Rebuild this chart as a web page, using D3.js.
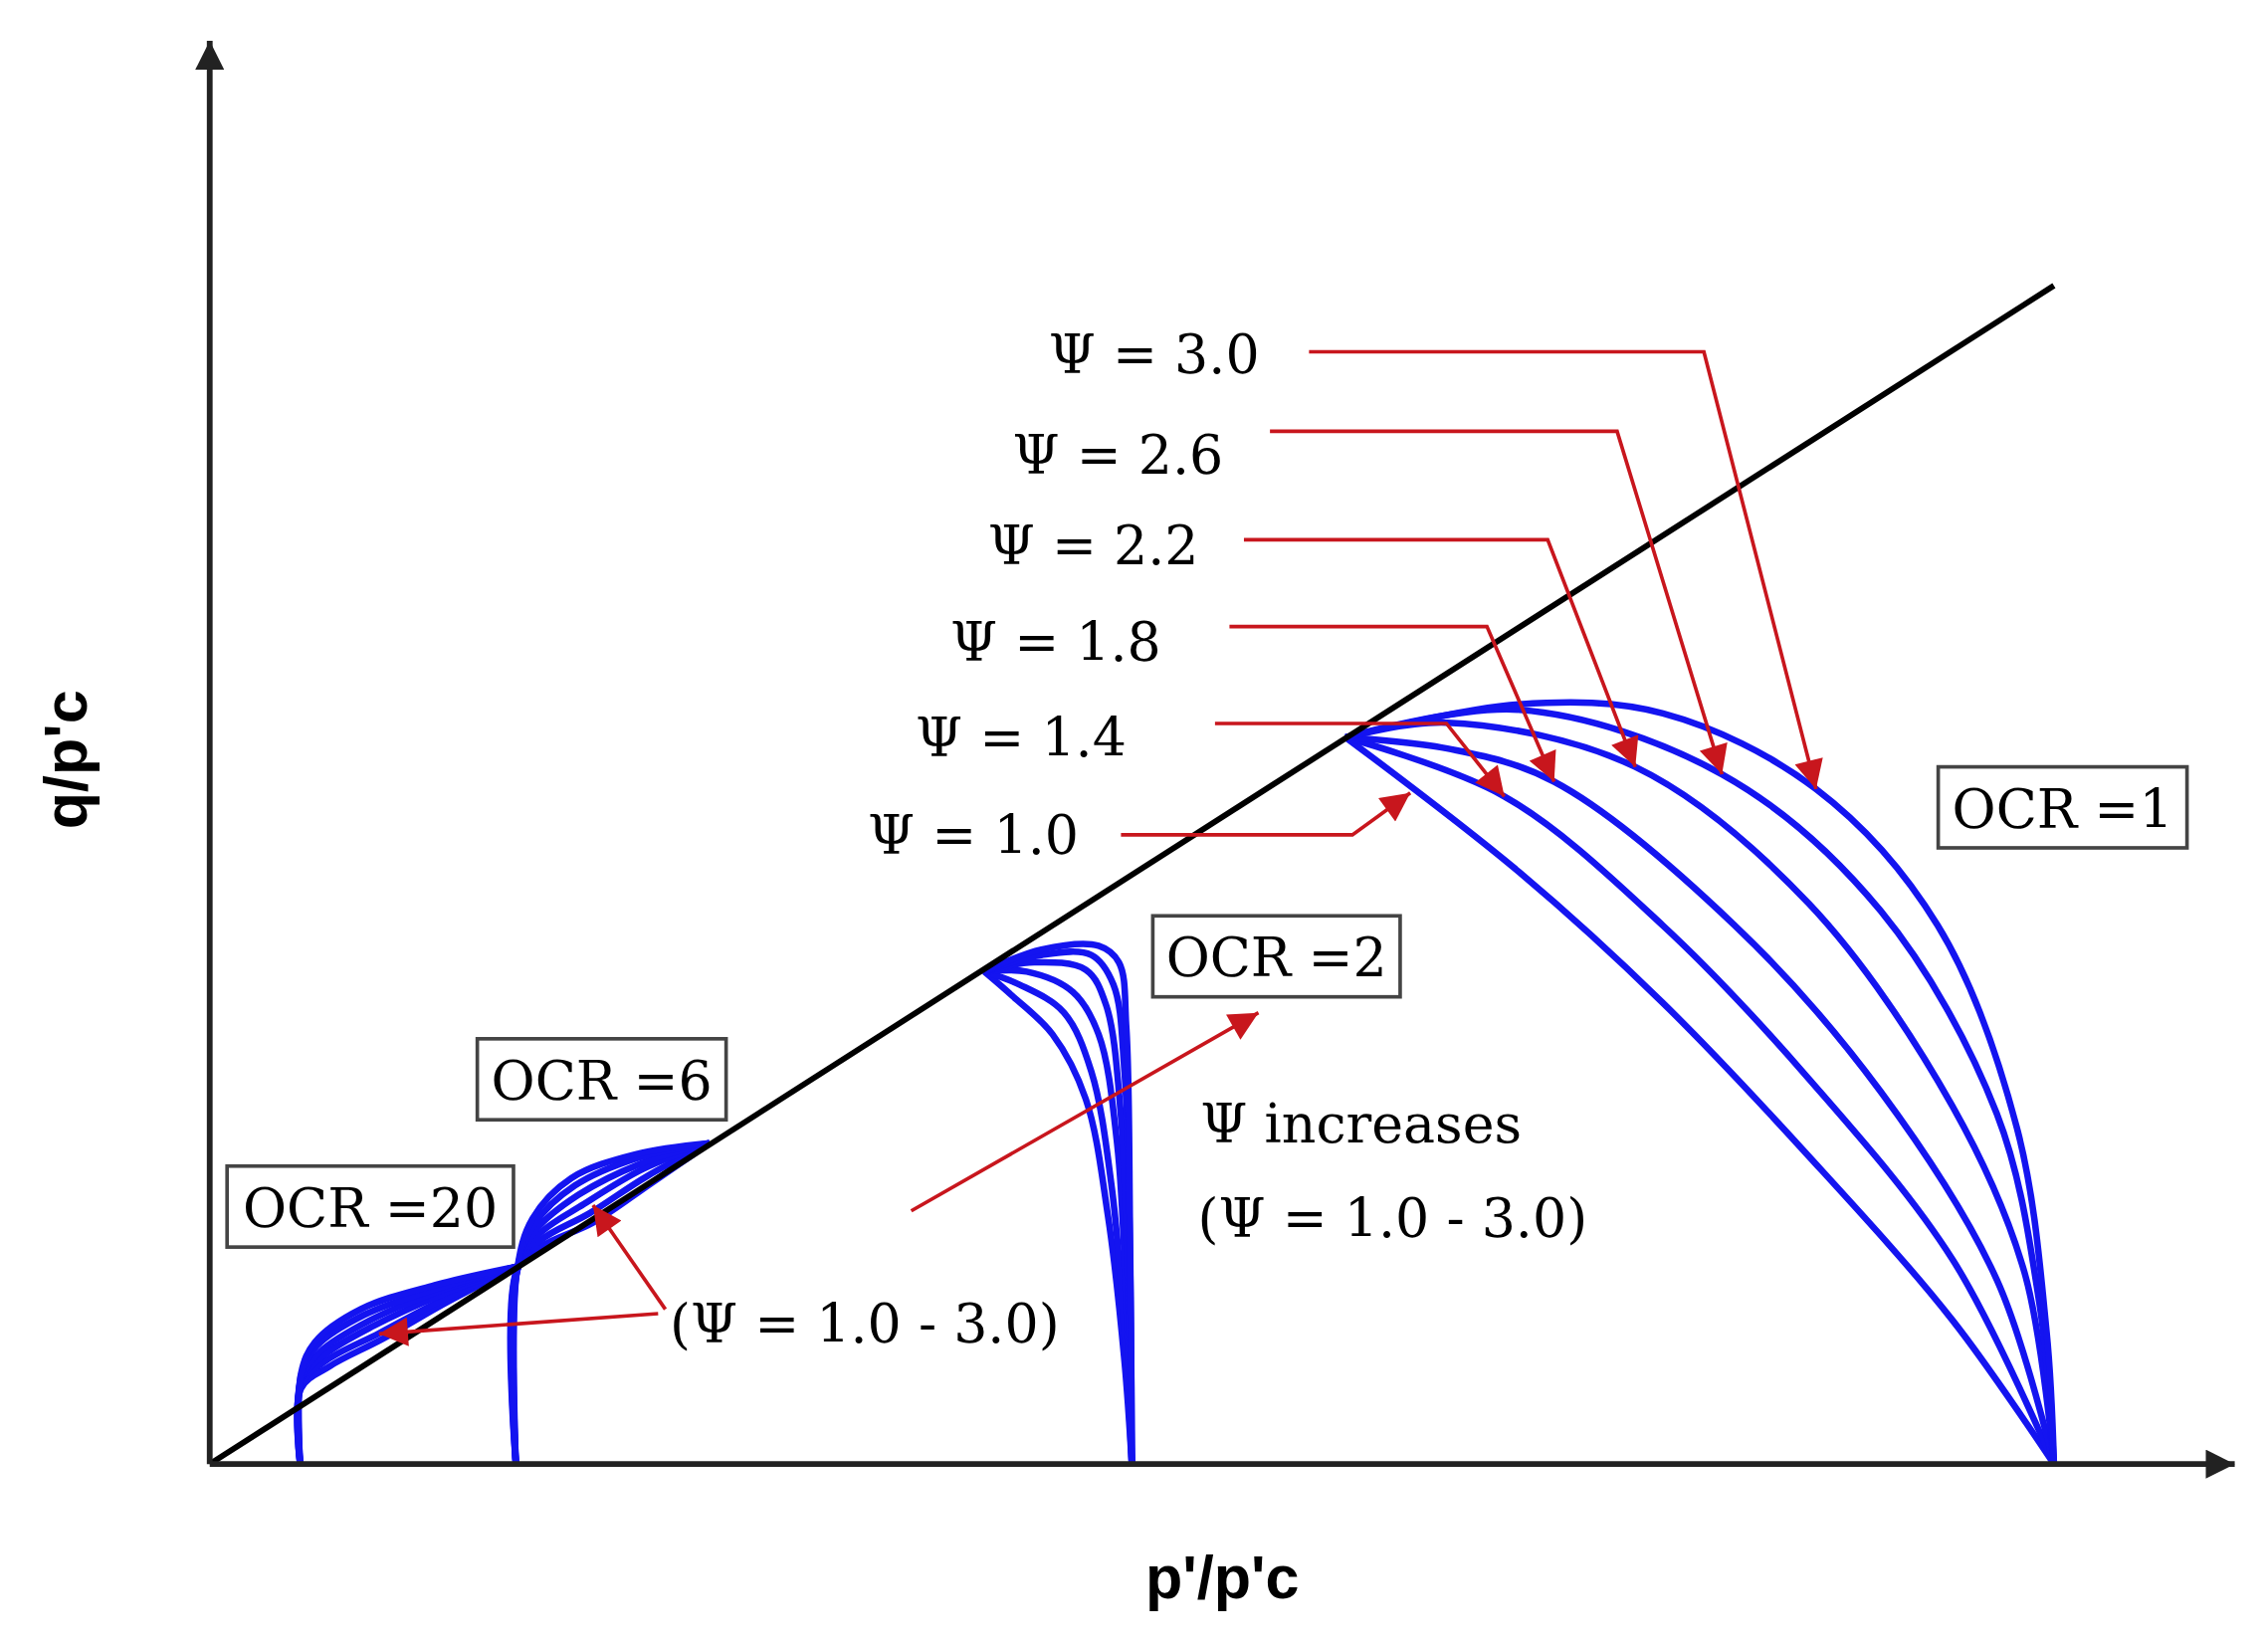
<!DOCTYPE html>
<html><head><meta charset="utf-8">
<script src="https://cdn.jsdelivr.net/npm/d3@7"></script>
<style>body{margin:0;background:#fff}</style></head>
<body><svg id="c" width="2279" height="1656" viewBox="0 0 1568 1139"></svg>
<script>
const psiLabels = ["Ψ = 1.0","Ψ = 1.4","Ψ = 1.8","Ψ = 2.2","Ψ = 2.6","Ψ = 3.0"];
const cslSlope = 0.639;
// p'/p'c , q/p'c points per curve (psi 1.0 .. 3.0)
const ocr1 = [
 [[0.616,0.394],[0.710,0.321],[0.788,0.250],[0.867,0.167],[0.945,0.078],[1,0]],
 [[0.616,0.394],[0.702,0.362],[0.788,0.292],[0.867,0.209],[0.945,0.111],[1,0]],
 [[0.616,0.394],[0.671,0.388],[0.729,0.370],[0.827,0.292],[0.906,0.202],[0.969,0.100],[1,0]],
 [[0.616,0.394],[0.671,0.402],[0.773,0.378],[0.867,0.304],[0.945,0.194],[0.984,0.104],[1,0]],
 [[0.616,0.394],[0.710,0.409],[0.820,0.374],[0.906,0.300],[0.969,0.190],[0.992,0.088],[1,0]],
 [[0.616,0.394],[0.710,0.412],[0.788,0.407],[0.871,0.366],[0.937,0.292],[0.980,0.182],[0.996,0.072],[1,0]]
];
const ocr2 = [
 [[0.420,0.267],[0.435,0.254],[0.457,0.233],[0.475,0.198],[0.487,0.135],[0.496,0.056],[0.5,0]],
 [[0.420,0.267],[0.439,0.260],[0.463,0.245],[0.478,0.213],[0.489,0.151],[0.496,0.072],[0.5,0]],
 [[0.420,0.267],[0.443,0.267],[0.468,0.256],[0.482,0.233],[0.492,0.174],[0.497,0.088],[0.5,0]],
 [[0.420,0.267],[0.447,0.272],[0.475,0.268],[0.486,0.249],[0.494,0.190],[0.498,0.096],[0.5,0]],
 [[0.420,0.267],[0.451,0.276],[0.478,0.276],[0.490,0.260],[0.496,0.213],[0.499,0.111],[0.5,0]],
 [[0.420,0.267],[0.451,0.279],[0.482,0.281],[0.493,0.272],[0.497,0.237],[0.499,0.127],[0.5,0]]
];
const ocr6 = [
 [[0.166,0],[0.1665,0.105],[0.180,0.118],[0.208,0.131],[0.239,0.152],[0.271,0.174]],
 [[0.166,0],[0.1665,0.105],[0.179,0.121],[0.206,0.136],[0.237,0.156],[0.271,0.174]],
 [[0.166,0],[0.1665,0.104],[0.178,0.124],[0.203,0.141],[0.235,0.160],[0.271,0.174]],
 [[0.166,0],[0.1665,0.104],[0.177,0.127],[0.200,0.146],[0.234,0.163],[0.271,0.174]],
 [[0.166,0],[0.1665,0.104],[0.176,0.130],[0.198,0.151],[0.232,0.166],[0.271,0.174]],
 [[0.166,0],[0.1665,0.104],[0.175,0.133],[0.196,0.155],[0.231,0.168],[0.271,0.174]]
];
const ocr20 = [
 [[0.049,0],[0.0495,0.041],[0.065,0.053],[0.094,0.068],[0.129,0.088],[0.166,0.107]],
 [[0.049,0],[0.0495,0.043],[0.063,0.056],[0.092,0.071],[0.128,0.090],[0.166,0.107]],
 [[0.049,0],[0.0495,0.045],[0.062,0.059],[0.089,0.075],[0.126,0.092],[0.166,0.107]],
 [[0.049,0],[0.0495,0.046],[0.060,0.061],[0.087,0.078],[0.125,0.094],[0.166,0.107]],
 [[0.049,0],[0.0495,0.048],[0.058,0.064],[0.084,0.081],[0.123,0.095],[0.166,0.107]],
 [[0.049,0],[0.0495,0.049],[0.057,0.066],[0.082,0.084],[0.122,0.097],[0.166,0.107]]
];
const ocrLabels = ["OCR =1","OCR =2","OCR =6","OCR =20"];

const svg = d3.select("#c");
const x = d3.scaleLinear([0,1],[145,1420]);
const y = d3.scaleLinear([0,1],[1012,-263]);
const red = "#c8161d", blue = "#1414f0";
const defs = svg.append("defs");
function marker(id,color,w,h){
  defs.append("marker").attr("id",id).attr("viewBox","0 0 10 10").attr("refX",10).attr("refY",5)
   .attr("markerUnits","userSpaceOnUse").attr("markerWidth",w).attr("markerHeight",h).attr("orient","auto")
   .append("path").attr("d","M0,0 L10,5 L0,10 Z").attr("fill",color);
}
marker("ra",red,28,20); marker("ka","#222",36,20);

const line = d3.line().x(d=>x(d[0])).y(d=>y(d[1])).curve(d3.curveCatmullRom.alpha(0.5));
[ocr1,ocr2,ocr6,ocr20].forEach(g=>g.forEach(c=>{
  svg.append("path").attr("d",line(c)).attr("fill","none").attr("stroke",blue).attr("stroke-width",4.5);
}));
svg.append("line").attr("x1",x(0)).attr("y1",y(0)).attr("x2",x(1)).attr("y2",y(cslSlope))
  .attr("stroke","#000").attr("stroke-width",4);
svg.append("line").attr("x1",x(0)).attr("y1",y(0)).attr("x2",1545).attr("y2",y(0))
  .attr("stroke","#222").attr("stroke-width",4).attr("marker-end","url(#ka)");
svg.append("line").attr("x1",x(0)).attr("y1",y(0)).attr("x2",x(0)).attr("y2",28)
  .attr("stroke","#222").attr("stroke-width",4).attr("marker-end","url(#ka)");
svg.append("text").attr("x",845).attr("y",1105).attr("text-anchor","middle")
  .attr("font-family","Liberation Sans, Arial").attr("font-weight","bold").attr("font-size",42).text("p'/p'c");
svg.append("text").attr("transform","translate(60,525) rotate(-90)").attr("text-anchor","middle")
  .attr("font-family","Liberation Sans, Arial").attr("font-weight","bold").attr("font-size",42).text("q/p'c");

const serif = "DejaVu Serif, serif";
const fs = 37;
const tx=[600,633,657,683,700,725], ty=[590,523,457,390,327,258];
const lx0=[775,840,850,860,878,905], ly=[577,500,433,373,298,243], lx1=[935,1000,1028,1070,1118,1178];
const tipIdx=[null,1,2,2,2,3];
psiLabels.forEach((t,i)=>{
  svg.append("text").attr("x",tx[i]).attr("y",ty[i]).attr("font-family",serif).attr("font-size",fs).text(t);
  const tip = i===0 ? [975,548] : [x(ocr1[i][tipIdx[i]][0]), y(ocr1[i][tipIdx[i]][1])];
  svg.append("polyline").attr("points",`${lx0[i]},${ly[i]} ${lx1[i]},${ly[i]} ${tip[0]},${tip[1]}`)
    .attr("fill","none").attr("stroke",red).attr("stroke-width",2.5).attr("marker-end","url(#ra)");
});
const bx=[1340,797,330,157], by=[530,633,718,806], bw=[172,171,172,198];
ocrLabels.forEach((t,i)=>{
  svg.append("rect").attr("x",bx[i]).attr("y",by[i]).attr("width",bw[i]).attr("height",56)
    .attr("fill","#fff").attr("stroke","#444").attr("stroke-width",2.5);
  svg.append("text").attr("x",bx[i]+bw[i]/2).attr("y",by[i]+42).attr("text-anchor","middle")
    .attr("font-family",serif).attr("font-size",fs).text(t);
});
svg.append("text").attr("x",830).attr("y",790).attr("font-family",serif).attr("font-size",fs).text("Ψ increases");
svg.append("text").attr("x",828).attr("y",855).attr("font-family",serif).attr("font-size",fs).text("(Ψ = 1.0 - 3.0)");
svg.append("text").attr("x",463).attr("y",928).attr("font-family",serif).attr("font-size",fs).text("(Ψ = 1.0 - 3.0)");
[[630,837,870,700],[460,905,410,833],[455,908,262,922]].forEach(a=>{
  svg.append("line").attr("x1",a[0]).attr("y1",a[1]).attr("x2",a[2]).attr("y2",a[3])
   .attr("stroke",red).attr("stroke-width",2.5).attr("marker-end","url(#ra)");
});
</script></body></html>
